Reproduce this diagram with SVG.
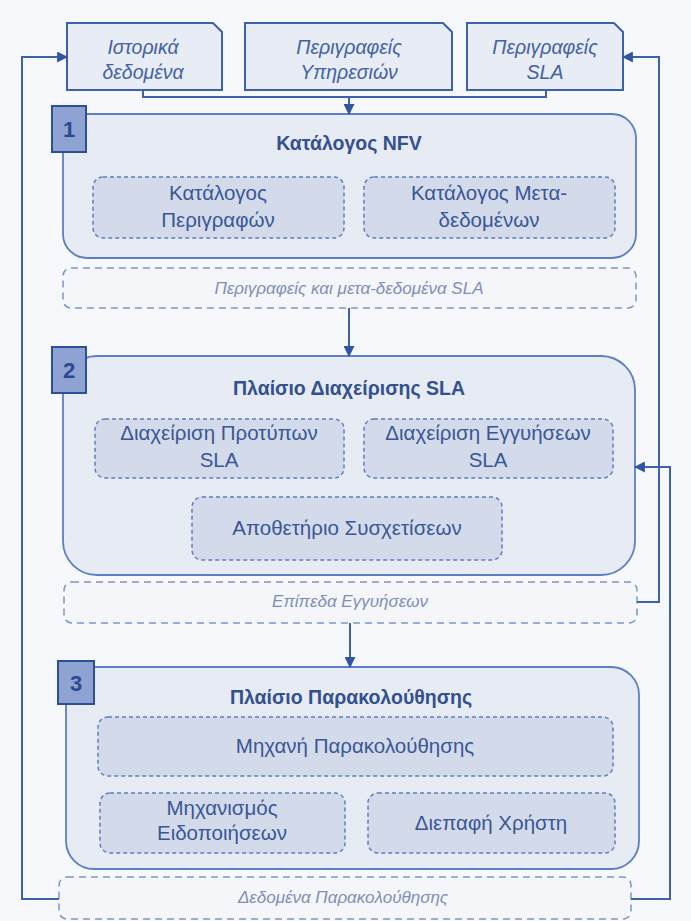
<svg xmlns="http://www.w3.org/2000/svg" width="691" height="921" viewBox="0 0 691 921">
  <defs>
    <marker id="arrow" viewBox="0 0 10 10" refX="9" refY="5" markerWidth="11" markerHeight="11" markerUnits="userSpaceOnUse" orient="auto">
      <path d="M0,0 L10,5 L0,10 Z" fill="#2f55a4"/>
    </marker>
    <style>
      text { font-family: "Liberation Sans", Arial, sans-serif; text-anchor: middle; }
      .doc { fill: #e8ecf5; stroke: #3d61aa; stroke-width: 2; }
      .doc-t { font-size: 19.5px; font-style: italic; fill: #4262a4; }
      .panel { fill: #e7ebf4; stroke: #5d7ec2; stroke-width: 1.8; }
      .badge { fill: #8ea3d1; stroke: #2d4f9a; stroke-width: 2; }
      .badge-t { font-size: 22px; font-weight: bold; fill: #2a4a8f; }
      .title { font-size: 19.5px; font-weight: bold; fill: #33508f; }
      .sub { fill: #d3dbeb; stroke: #5f7fc0; stroke-width: 1.5; stroke-dasharray: 4 3; }
      .sub-t { font-size: 20.5px; fill: #3a5696; }
      .flow { fill: #f5f6fa; stroke: #7d95c8; stroke-width: 1.5; stroke-dasharray: 7 5; }
      .flow-t { font-size: 17px; font-style: italic; fill: #7d8fb8; }
      .conn { fill: none; stroke: #3d61aa; stroke-width: 2; }
    </style>
  </defs>

  <rect x="0" y="0" width="691" height="921" fill="#f7f8fb"/>

  <!-- input documents -->
  <g id="doc-history">
    <path class="doc" d="M67,23 H213 L222,32 V90 H67 Z"/>
    <text class="doc-t" x="143" y="54">Ιστορικά</text>
    <text class="doc-t" x="143" y="79">δεδομένα</text>
  </g>
  <g id="doc-services">
    <path class="doc" d="M245,23 H443 L452,32 V90 H245 Z"/>
    <text class="doc-t" x="349" y="54">Περιγραφείς</text>
    <text class="doc-t" x="349" y="79">Υπηρεσιών</text>
  </g>
  <g id="doc-sla">
    <path class="doc" d="M467,23 H614 L623,32 V90 H467 Z"/>
    <text class="doc-t" x="545" y="54">Περιγραφείς</text>
    <text class="doc-t" x="545" y="79">SLA</text>
  </g>

  <!-- 1: NFV catalogue -->
  <g id="nfv-catalogue">
    <rect class="panel" x="63" y="114" width="573" height="144" rx="24"/>
    <text class="title" x="349" y="150">Κατάλογος NFV</text>
    <g id="descriptor-catalogue">
      <rect class="sub" x="93" y="177" width="251" height="61" rx="10"/>
      <text class="sub-t" x="218" y="200">Κατάλογος</text>
      <text class="sub-t" x="218" y="227">Περιγραφών</text>
    </g>
    <g id="metadata-catalogue">
      <rect class="sub" x="364" y="177" width="251" height="61" rx="10"/>
      <text class="sub-t" x="489" y="200">Κατάλογος Μετα-</text>
      <text class="sub-t" x="489" y="227">δεδομένων</text>
    </g>
    <rect class="badge" x="52" y="106" width="34" height="46"/>
    <text class="badge-t" x="69" y="137">1</text>
  </g>

  <g id="flow-sla-descriptors">
    <rect class="flow" x="63" y="268" width="573" height="40" rx="8"/>
    <text class="flow-t" x="349" y="294">Περιγραφείς και μετα-δεδομένα SLA</text>
  </g>

  <!-- 2: SLA management framework -->
  <g id="sla-framework">
    <rect class="panel" x="63" y="356" width="572" height="219" rx="34"/>
    <text class="title" x="349" y="395">Πλαίσιο Διαχείρισης SLA</text>
    <g id="template-management">
      <rect class="sub" x="95" y="419" width="249" height="59" rx="10"/>
      <text class="sub-t" x="219" y="440">Διαχείριση Προτύπων</text>
      <text class="sub-t" x="219" y="467">SLA</text>
    </g>
    <g id="guarantee-management">
      <rect class="sub" x="364" y="419" width="249" height="59" rx="10"/>
      <text class="sub-t" x="488" y="440">Διαχείριση Εγγυήσεων</text>
      <text class="sub-t" x="488" y="467">SLA</text>
    </g>
    <g id="correlation-repository">
      <rect class="sub" x="192" y="497" width="310" height="63" rx="10"/>
      <text class="sub-t" x="347" y="535">Αποθετήριο Συσχετίσεων</text>
    </g>
    <rect class="badge" x="52" y="347" width="34" height="46"/>
    <text class="badge-t" x="69" y="378">2</text>
  </g>

  <g id="flow-guarantee-levels">
    <rect class="flow" x="64" y="582" width="573" height="41" rx="8"/>
    <text class="flow-t" x="350" y="607">Επίπεδα Εγγυήσεων</text>
  </g>

  <!-- 3: monitoring framework -->
  <g id="monitoring-framework">
    <rect class="panel" x="66" y="667" width="573" height="202" rx="28"/>
    <text class="title" x="351" y="704">Πλαίσιο Παρακολούθησης</text>
    <g id="monitoring-engine">
      <rect class="sub" x="98" y="717" width="515" height="59" rx="10"/>
      <text class="sub-t" x="355" y="753">Μηχανή Παρακολούθησης</text>
    </g>
    <g id="notification-mechanism">
      <rect class="sub" x="100" y="793" width="245" height="60" rx="10"/>
      <text class="sub-t" x="222" y="815">Μηχανισμός</text>
      <text class="sub-t" x="222" y="840">Ειδοποιήσεων</text>
    </g>
    <g id="user-interface">
      <rect class="sub" x="368" y="793" width="247" height="60" rx="10"/>
      <text class="sub-t" x="491" y="830">Διεπαφή Χρήστη</text>
    </g>
    <rect class="badge" x="58" y="661" width="36" height="43"/>
    <text class="badge-t" x="76" y="691">3</text>
  </g>

  <g id="flow-monitoring-data">
    <rect class="flow" x="59" y="877" width="572" height="42" rx="8"/>
    <text class="flow-t" x="343" y="903">Δεδομένα Παρακολούθησης</text>
  </g>

  <!-- connectors -->
  <g id="connectors">
    <path class="conn" d="M143,90 V97 H546 V90"/>
    <path class="conn" d="M349,97 V114" marker-end="url(#arrow)"/>
    <path class="conn" d="M349,308 V356" marker-end="url(#arrow)"/>
    <path class="conn" d="M350,623 V667" marker-end="url(#arrow)"/>
    <path class="conn" d="M59,899 H22 V57 H67" marker-end="url(#arrow)"/>
    <path class="conn" d="M631,899 H670 V467 H635" marker-end="url(#arrow)"/>
    <path class="conn" d="M637,602 H659 V57 H623" marker-end="url(#arrow)"/>
  </g>
</svg>
